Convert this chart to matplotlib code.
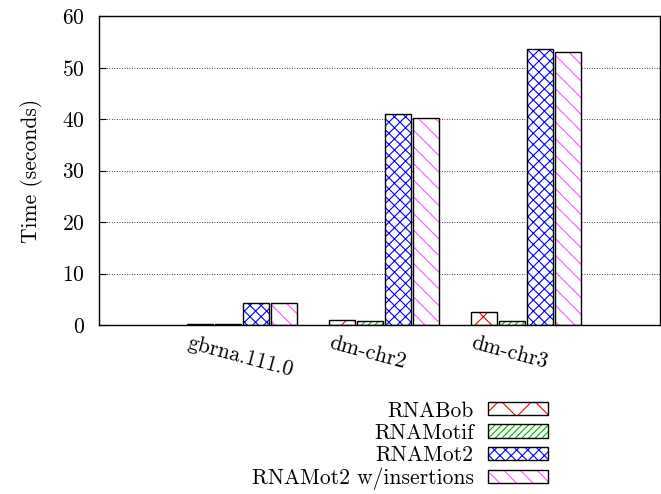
import matplotlib
matplotlib.use('Agg')
import matplotlib.pyplot as plt
import matplotlib.transforms as mtransforms
from matplotlib.patches import Patch
import numpy as np

plt.rcParams['font.family'] = 'cmr10'
plt.rcParams['axes.formatter.use_mathtext'] = True
plt.rcParams['font.size'] = 15.5
plt.rcParams['hatch.linewidth'] = 0.8

datasets = ['gbrna.111.0', 'dm-chr2', 'dm-chr3']
series = ['RNABob', 'RNAMotif', 'RNAMot2', 'RNAMot2 w/insertions']
rnabob = [0.1, 0.9, 2.45]
rnamotif = [0.15, 0.7, 0.8]
rnamot2 = [4.2, 41.0, 53.5]
rnamot2_ins = [4.2, 40.1, 53.1]

values = [rnabob, rnamotif, rnamot2, rnamot2_ins]
colors = ['red', '#00b000', 'blue', '#ff55ff']
hatches = ['x', '/////', 'xxx', '\\\\']

fig = plt.figure(figsize=(6.61, 4.94), dpi=100)
ax = fig.add_axes([99/661, 1-325/494, 561/661, 309/494])

x = np.arange(len(datasets))
w = 0.197
handles = []
for i, (vals, c, h) in enumerate(zip(values, colors, hatches)):
    pos = x + (i - 1.5) * w
    ax.bar(pos, vals, width=w*0.94, color='white', edgecolor=c, hatch=h, lw=0, zorder=2)
    ax.bar(pos, vals, width=w*0.94, fill=False, edgecolor='black', lw=1.0, zorder=3)
    handles.append((Patch(facecolor='white', edgecolor=c, hatch=h, lw=0),
                    Patch(fill=False, edgecolor='black', lw=1.0)))

ax.set_xlim(-1.007, 2.945)
ax.set_ylim(0, 60)
ax.set_yticks(range(0, 61, 10))
ax.yaxis.grid(True, linestyle=(0, (1, 2)), color='black', lw=0.6, zorder=0)
ax.set_axisbelow(True)
ax.tick_params(axis='y', direction='in', length=5, pad=10)
ax.set_xticks(x)
ax.set_xticklabels([])
ax.tick_params(axis='x', length=0)

# gnuplot style rotated labels, left-anchored before the group centre
shift = mtransforms.ScaledTranslation(-0.52, -0.08, fig.dpi_scale_trans)
for xi, name in zip(x, datasets):
    ax.text(xi, 0, name, rotation=-15, rotation_mode='anchor', ha='left', va='top',
            transform=ax.get_xaxis_transform() + shift)

for s in ax.spines.values():
    s.set_linewidth(1.0)
ax.set_ylabel('Time (seconds)', labelpad=14)

fig.legend(handles, series, loc='upper right', bbox_to_anchor=(548/661, 1-401/494),
           markerfirst=False, frameon=False, handlelength=2.8, handleheight=0.56,
           labelspacing=0.12, handletextpad=0.65, borderpad=0.0, borderaxespad=0)

fig.savefig('out.png', dpi=100)
